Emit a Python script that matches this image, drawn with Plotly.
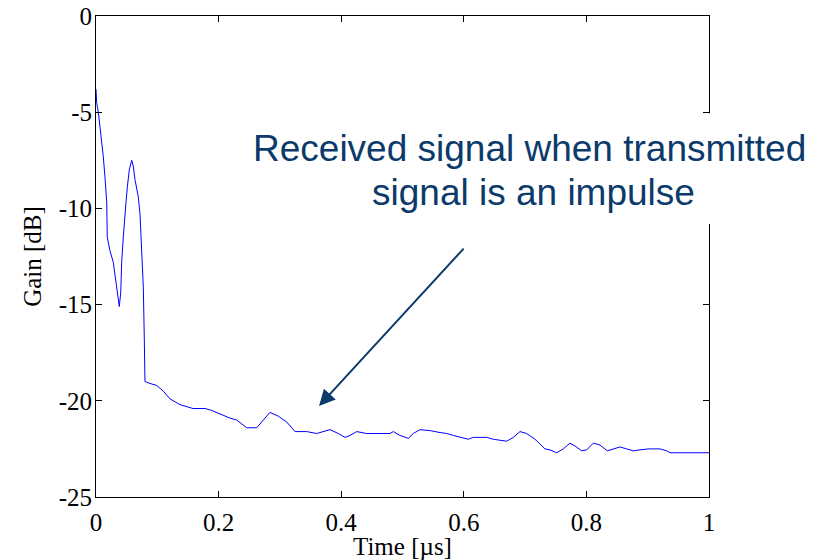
import plotly.graph_objects as go

time_us = [0.0, 0.0011, 0.0038, 0.0065, 0.0093, 0.0119, 0.0147, 0.0175, 0.0184, 0.0228,
           0.0282, 0.031, 0.0338, 0.0364, 0.038, 0.0403, 0.0419, 0.0445, 0.0462, 0.0489,
           0.0511, 0.0543, 0.0582, 0.0608, 0.0636, 0.069, 0.0718, 0.0746, 0.0772, 0.0788,
           0.0799, 0.0881, 0.099, 0.1098, 0.1207, 0.137, 0.1582, 0.1697, 0.1778, 0.1887,
           0.2023, 0.2186, 0.2295, 0.2458, 0.2622, 0.2729, 0.2838, 0.2974, 0.3111, 0.3246,
           0.3437, 0.36, 0.3708, 0.3817, 0.3953, 0.4062, 0.4144, 0.4253, 0.4416, 0.4551,
           0.4796, 0.485, 0.4959, 0.5095, 0.5176, 0.5285, 0.5449, 0.5612, 0.5721, 0.5829,
           0.5938, 0.6073, 0.6155, 0.6374, 0.6481, 0.67, 0.6808, 0.6917, 0.7026, 0.7162,
           0.7325, 0.7406, 0.7515, 0.7623, 0.7732, 0.7814, 0.7923, 0.8005, 0.8113, 0.8222,
           0.8341, 0.8439, 0.8548, 0.8657, 0.8765, 0.8874, 0.901, 0.9201, 0.9309, 0.9364, 1.0]
gain_db = [-3.8, -4.5, -5.0, -5.8, -6.4, -7.3, -8.4, -9.7, -11.5, -12.2,
           -12.8, -13.4, -14.1, -14.6, -15.1, -14.4, -12.8, -11.5, -10.6, -9.7,
           -8.9, -8.0, -7.5, -7.8, -8.5, -9.4, -10.3, -12.3, -14.1, -16.8,
           -19.0, -19.1, -19.2, -19.5, -19.9, -20.2, -20.4, -20.4, -20.4, -20.5,
           -20.7, -20.9, -21.0, -21.4, -21.4, -21.0, -20.6, -20.8, -21.1, -21.6,
           -21.6, -21.7, -21.6, -21.5, -21.7, -21.9, -21.8, -21.6, -21.7, -21.7,
           -21.7, -21.6, -21.8, -21.95, -21.7, -21.5, -21.55, -21.65, -21.7, -21.8,
           -21.9, -22.0, -21.9, -21.9, -22.0, -22.1, -21.9, -21.6, -21.7, -22.0,
           -22.5, -22.55, -22.7, -22.5, -22.2, -22.35, -22.6, -22.55, -22.2, -22.3,
           -22.6, -22.5, -22.4, -22.5, -22.6, -22.55, -22.5, -22.5, -22.6, -22.7, -22.7]

x_ticks = [0, 0.2, 0.4, 0.6, 0.8, 1]
x_labels = ["0", "0.2", "0.4", "0.6", "0.8", "1"]
y_ticks = [0, -5, -10, -15, -20, -25]
y_labels = ["0", "-5", "-10", "-15", "-20", "-25"]

note_line1 = "Received signal when transmitted"
note_line2 = "signal is an impulse"
arrow_head = (0.3638, -20.27)
arrow_tail = (0.602, -12.01)

NAVY = "#0b3a6b"
SERIF = "Liberation Serif"

fig = go.Figure()
fig.add_trace(go.Scatter(x=time_us, y=gain_db, mode="lines",
                         line=dict(color="#0000ff", width=1), showlegend=False))

axis_common = dict(showgrid=False, zeroline=False, showline=True, linecolor="black",
                   linewidth=1, mirror="ticks", ticks="inside", ticklen=6,
                   tickcolor="black", automargin=False, ticklabeloverflow="allow",
                   tickfont=dict(family=SERIF, size=25, color="black"))
fig.update_xaxes(range=[0, 1], tickvals=x_ticks, ticktext=x_labels, ticklabelstandoff=3,
                 title=dict(text="Time [µs]", standoff=11,
                            font=dict(family=SERIF, size=25, color="black")),
                 **axis_common)
fig.update_yaxes(range=[-25, 0], tickvals=y_ticks, ticktext=y_labels, ticklabelstandoff=-2,
                 title=dict(text="Gain [dB]", standoff=9,
                            font=dict(family=SERIF, size=25, color="black")),
                 **axis_common)

# white patch where the note's box hides the right-hand axis
fig.add_shape(type="rect", xref="paper", yref="paper", x0=0.985, x1=1.02,
              y0=0.5676, y1=0.798, fillcolor="white", line=dict(width=0), layer="above")

fig.add_annotation(x=0.7064, y=-6.91, xref="x", yref="y", text=note_line1,
                   showarrow=False, xanchor="center", yanchor="middle",
                   font=dict(family="Liberation Sans", size=37, color=NAVY))
fig.add_annotation(x=0.7129, y=-9.15, xref="x", yref="y", text=note_line2,
                   showarrow=False, xanchor="center", yanchor="middle",
                   font=dict(family="Liberation Sans", size=37, color=NAVY))
fig.add_annotation(x=arrow_head[0], y=arrow_head[1], ax=arrow_tail[0], ay=arrow_tail[1],
                   xref="x", yref="y", axref="x", ayref="y", text="", showarrow=True,
                   arrowhead=2, arrowsize=1.6, arrowwidth=2, arrowcolor=NAVY)

fig.update_layout(width=825, height=560, margin=dict(l=96, r=116, t=16, b=63),
                  plot_bgcolor="white", paper_bgcolor="white")
# remove the page's default body margin so the figure fills the window exactly
fig.write_html("out.html", config={"displayModeBar": False},
               post_script="document.body.style.margin='0';document.body.style.overflow='hidden';")
